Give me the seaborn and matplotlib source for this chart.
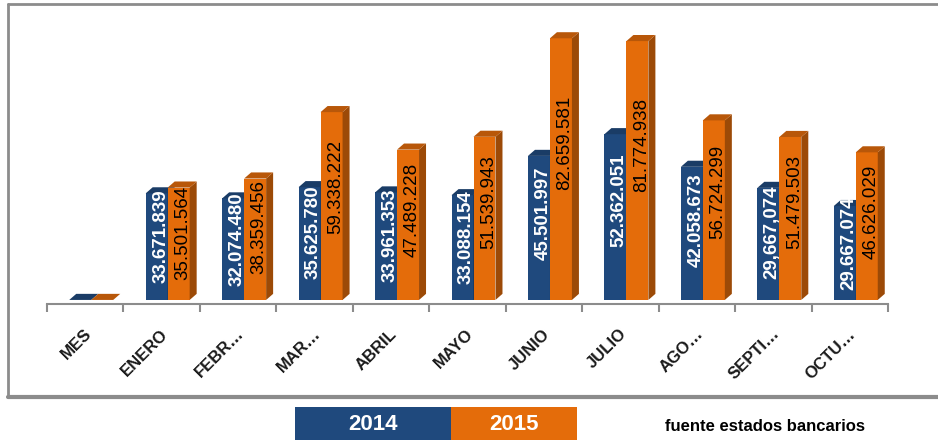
import numpy as np
import pandas as pd
import matplotlib
matplotlib.use("Agg")
import matplotlib.pyplot as plt
import matplotlib.transforms as mtransforms
from matplotlib.patches import Polygon, Rectangle
from matplotlib.lines import Line2D
import seaborn as sns

sns.set_theme(style="white")
plt.rcParams["font.family"] = ["Liberation Sans", "DejaVu Sans"]

# data
meses = ["MES", "ENERO", "FEBR…", "MAR…", "ABRIL", "MAYO",
         "JUNIO", "JULIO", "AGO…", "SEPTI…", "OCTU…"]
v2014 = [0, 33671839, 32074480, 35625780, 33961353, 33088154,
         45501997, 52362051, 42058673, 35400000, 29667074]
v2015 = [0, 35501564, 38359456, 59338222, 47489228, 51539943,
         82659581, 81774938, 56724299, 51479503, 46626029]
# printed labels (the september 2014 label does not match its bar)
lbl2014 = ["", "33.671.839", "32.074.480", "35.625.780", "33.961.353", "33.088.154",
           "45.501.997", "52.362.051", "42.058.673", "29,667,074", "29.667.074"]
lbl2015 = ["" if v == 0 else f"{v:,}".replace(",", ".") for v in v2015]
anios = ["2014", "2015"]

BLUE = "#1f497d"
ORANGE = "#e46c0a"
BLUE_SIDE, BLUE_TOP = "#142f52", "#1a3c66"
ORANGE_SIDE, ORANGE_TOP = "#9c4a07", "#b85709"
GRAY = "#8c8c8c"

df = pd.DataFrame({
    "mes": meses * 2,
    "valor": v2014 + v2015,
    "anio": [anios[0]] * len(meses) + [anios[1]] * len(meses),
})

W, H = 938, 440
fig = plt.figure(figsize=(W / 100, H / 100), dpi=100)
ax_l, ax_r, ax_b, ax_t = 47, 888, 304, 25
ax = fig.add_axes([ax_l / W, (H - ax_b) / H, (ax_r - ax_l) / W, (ax_b - ax_t) / H])

sns.barplot(data=df, x="mes", y="valor", hue="anio", order=meses, hue_order=anios,
            palette=[BLUE, ORANGE], width=0.575, saturation=1, linewidth=0,
            legend=False, ax=ax)

n = len(meses)
px_x = (ax_r - ax_l) / n          # pixels per category
px_y = 3.12e-6                    # pixels per unit of value
shift = 6 / px_x                  # 3d bars sit a little right of the slot centre
ax.set_xlim(-0.5 - shift, n - 0.5 - shift)
ax.set_ylim(-4 / px_y, (ax_b - 4 - ax_t) / px_y - 4 / px_y)

dx = 7 / px_x
dy = 6 / px_y

styles = [(BLUE_SIDE, BLUE_TOP, 2, "white", "bold"),
          (ORANGE_SIDE, ORANGE_TOP, 3, "black", "normal")]
labels = [lbl2014, lbl2015]
lab_off = mtransforms.ScaledTranslation(4 / 100, 0, fig.dpi_scale_trans)
for cont, (side_c, top_c, z, txt_c, txt_w), lbls in zip(ax.containers, styles, labels):
    for bar, lbl in zip(cont, lbls):
        bar.set_zorder(z)
        x0, w, h = bar.get_x(), bar.get_width(), bar.get_height()
        side = Polygon([(x0 + w, 0), (x0 + w + dx, dy), (x0 + w + dx, h + dy), (x0 + w, h)],
                       closed=True, facecolor=side_c, edgecolor="none", zorder=z + 0.1)
        top = Polygon([(x0, h), (x0 + dx, h + dy), (x0 + w + dx, h + dy), (x0 + w, h)],
                      closed=True, facecolor=top_c, edgecolor="none", zorder=z + 0.1)
        ax.add_patch(side)
        ax.add_patch(top)
        if lbl:
            ax.text(x0 + w / 2, h * 0.6, lbl, rotation=90, ha="center", va="center",
                    fontsize=13.5, color=txt_c, fontweight=txt_w, zorder=z + 0.5,
                    transform=ax.transData + lab_off)

for s in ["left", "right", "top"]:
    ax.spines[s].set_visible(False)
ax.spines["bottom"].set_color(GRAY)
ax.spines["bottom"].set_linewidth(1.5)
ax.set_yticks([])
ax.set_xlabel("")
ax.set_ylabel("")

ax.set_xticks(np.arange(n))
ax.set_xticklabels(meses, rotation=45, ha="right", fontweight="bold", fontsize=12,
                   color="#1a1a1a")
ax.set_xticks(np.arange(n + 1) - 0.5 - shift, minor=True)
ax.tick_params(axis="x", which="major", length=0, pad=16)
ax.tick_params(axis="x", which="minor", length=6, width=1.5, color=GRAY,
               direction="out", bottom=True)
tick_off = mtransforms.ScaledTranslation(3 / 100, 0, fig.dpi_scale_trans)
for t in ax.get_xticklabels():
    t.set_transform(t.get_transform() + tick_off)

# outer frame of the chart area
fig.add_artist(Line2D([8 / W, 1], [1 - 4 / H] * 2, transform=fig.transFigure, color=GRAY, lw=2))
fig.add_artist(Line2D([8 / W] * 2, [1 - 4 / H, 1 - 397 / H], transform=fig.transFigure, color=GRAY, lw=2))
fig.add_artist(Line2D([8 / W, 1], [1 - 397 / H] * 2, transform=fig.transFigure, color=GRAY, lw=3))

# legend boxes under the chart
boxes = [(295, 451, BLUE), (451, 577, ORANGE)]
for (xa, xb, col), anio in zip(boxes, anios):
    fig.add_artist(Rectangle((xa / W, 0), (xb - xa) / W, (H - 407) / H,
                             transform=fig.transFigure, facecolor=col, edgecolor="none"))
    fig.text((xa + xb) / 2 / W, (H - 424) / H, anio, ha="center", va="center",
             color="white", fontsize=16, fontweight="bold")
fig.text(765 / W, (H - 426) / H, "fuente estados bancarios", ha="center", va="center",
         color="black", fontsize=12, fontweight="bold")

fig.savefig("out.png", dpi=100)
